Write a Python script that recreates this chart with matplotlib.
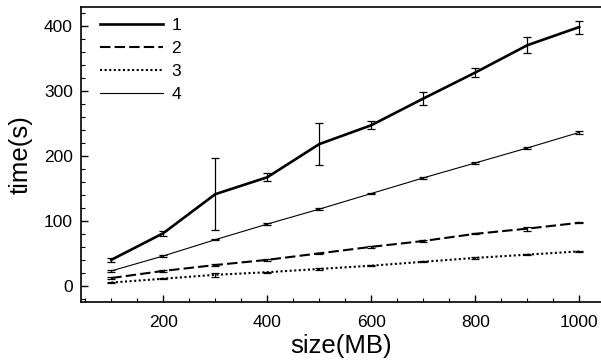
import matplotlib
matplotlib.use("Agg")
import matplotlib.pyplot as plt
from matplotlib.lines import Line2D
from matplotlib.ticker import MultipleLocator

plt.rcParams['font.family'] = ['Liberation Sans', 'DejaVu Sans']

sizes = [100, 200, 300, 400, 500, 600, 700, 800, 900, 1000]

time1 = [40, 81, 141, 167, 218, 247, 288, 328, 370, 398]
err1 = [3, 4, 55, 6, 32, 6, 10, 7, 12, 10]

time2 = [12, 23, 32, 40, 50, 60, 69, 80, 88, 97]
err2 = [1, 1, 1, 1, 1, 1, 1, 1, 3, 1]

time3 = [5, 11, 17, 21, 26, 31, 37, 43, 48, 53]
err3 = [1, 1, 3, 1, 1, 1, 1, 1, 1, 1]

time4 = [23, 46, 71, 95, 118, 142, 166, 189, 212, 236]
err4 = [1, 1, 1, 1, 1, 1, 2, 1, 1, 2]

labels = ['1', '2', '3', '4']

fig = plt.figure(figsize=(6.01, 3.64), dpi=100)
ax = fig.add_axes([0.135, 0.170, 0.865, 0.811])

series = [
    (time1, err1, '-', 1.9),
    (time2, err2, (0, (5, 2)), 1.5),
    (time3, err3, (0, (1, 1.2)), 1.5),
    (time4, err4, '-', 0.8),
]
handles = []
for (vals, errs, ls, lw), lab in zip(series, labels):
    line, caps, bars = ax.errorbar(sizes, vals, yerr=errs, color='black',
                                   linewidth=lw, elinewidth=0.9, capsize=3,
                                   capthick=0.9)
    line.set_linestyle(ls)
    handles.append(Line2D([], [], color='black', linewidth=lw,
                          linestyle=ls, label=lab))

ax.set_xlim(42, 1042)
ax.set_ylim(-25, 429)
ax.xaxis.set_major_locator(MultipleLocator(200))
ax.xaxis.set_minor_locator(MultipleLocator(50))
ax.yaxis.set_major_locator(MultipleLocator(100))
ax.yaxis.set_minor_locator(MultipleLocator(20))
ax.tick_params(which='both', direction='in', labelsize=12.5)
ax.tick_params(which='major', length=5, width=1)
ax.tick_params(which='minor', length=3, width=0.8)
ax.tick_params(axis='x', which='major', pad=9)
ax.tick_params(axis='y', which='major', pad=6)
ax.spines['right'].set_visible(False)
for s in ['left', 'bottom', 'top']:
    ax.spines[s].set_linewidth(1.2)

ax.set_xlabel('size(MB)', fontsize=18.5, labelpad=3)
ax.set_ylabel('time(s)', fontsize=18.5, labelpad=8)

ax.legend(handles=handles, loc='upper left', frameon=False, fontsize=12.5,
          handlelength=3.6, labelspacing=0.45,
          borderaxespad=0.5, handletextpad=0.5, borderpad=0.2,
          bbox_to_anchor=(0.013, 1.005))

fig.savefig('out.png', dpi=100)
